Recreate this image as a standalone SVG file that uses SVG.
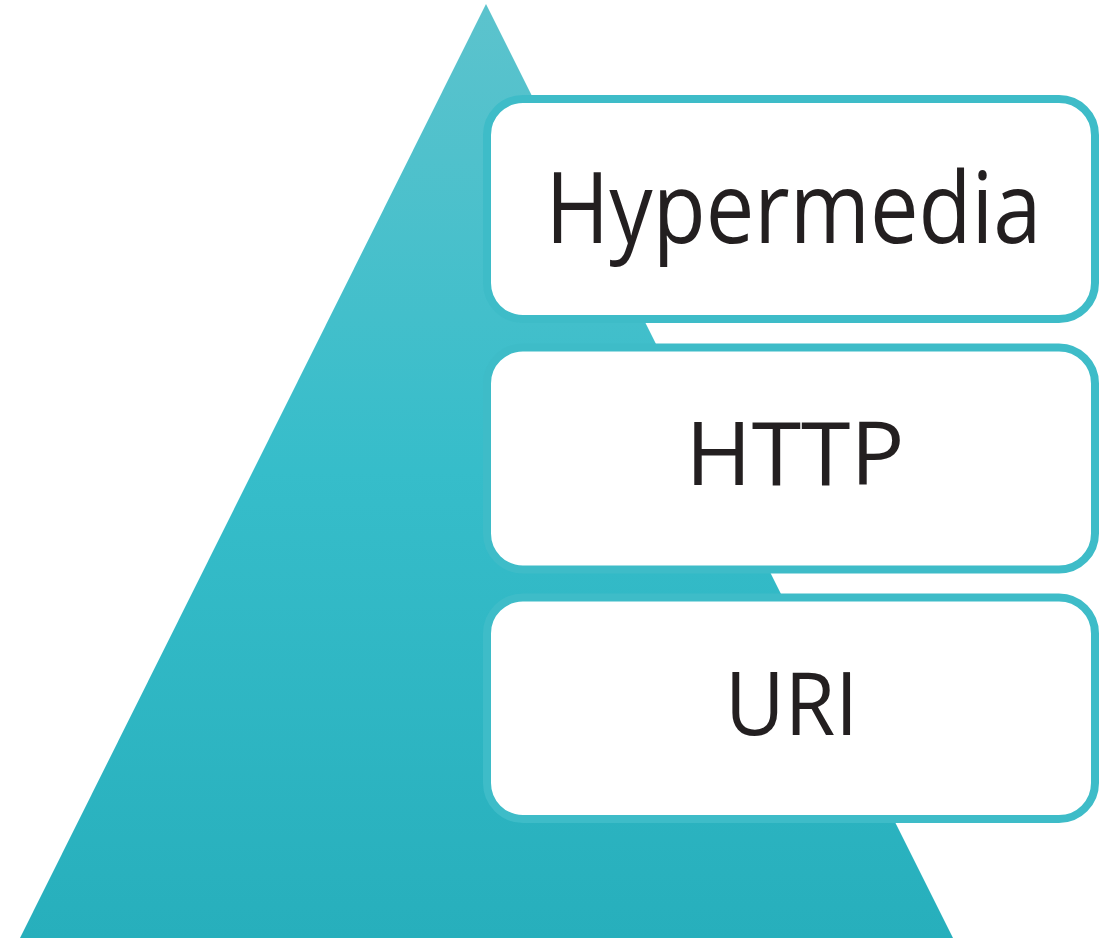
<svg xmlns="http://www.w3.org/2000/svg" width="1107" height="938" viewBox="0 0 1107 938">
  <defs>
    <linearGradient id="tri" x1="0" y1="0" x2="0" y2="1">
      <stop offset="0" stop-color="#5cc3cd"/>
      <stop offset="0.5" stop-color="#36bdca"/>
      <stop offset="1" stop-color="#27afbc"/>
    </linearGradient>
  </defs>
  <style>
    .box { fill: #ffffff; stroke: #3ebcc8; stroke-width: 8; }
    .lbl { font-family: "Open Sans", "Liberation Sans", sans-serif; fill: #231f20; text-anchor: middle; }
  </style>
  <polygon id="pyramid" points="486,4 953,938 20,938" fill="url(#tri)"/>
  <g id="connectors"></g>
  <g id="node-hypermedia">
    <rect class="box" x="487" y="99" width="608" height="220" rx="36" ry="36"/>
    <text class="lbl" x="793.5" y="243" font-size="98" textLength="496" lengthAdjust="spacingAndGlyphs">Hypermedia</text>
  </g>
  <g id="node-http">
    <rect class="box" x="487" y="347.5" width="608" height="222" rx="36" ry="36"/>
    <text class="lbl" x="795" y="485" font-size="87" textLength="219" lengthAdjust="spacingAndGlyphs">HTTP</text>
  </g>
  <g id="node-uri">
    <rect class="box" x="487" y="597.5" width="608" height="221.5" rx="36" ry="36"/>
    <text class="lbl" x="791.5" y="735" font-size="87" textLength="133" lengthAdjust="spacingAndGlyphs">URI</text>
  </g>
</svg>
